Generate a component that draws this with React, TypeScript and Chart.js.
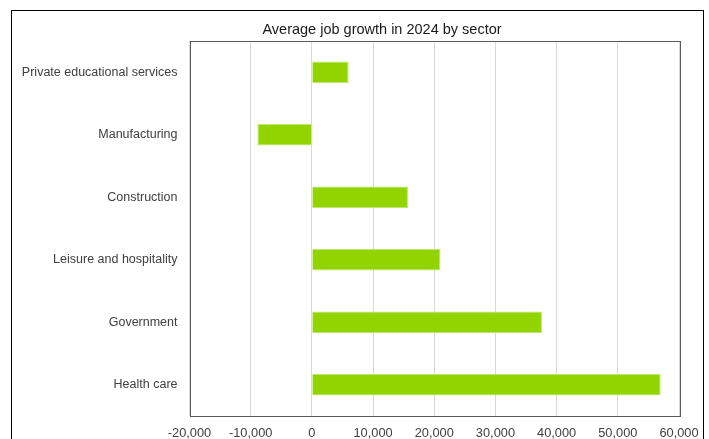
import React, { useEffect, useRef } from "react";
import { Chart, registerables } from "chart.js";

Chart.register(...registerables);

const TITLE = "Average job growth in 2024 by sector";
const categories = [
  "Private educational services",
  "Manufacturing",
  "Construction",
  "Leisure and hospitality",
  "Government",
  "Health care",
];
const jobGrowth = [6000, -8900, 15700, 21000, 37600, 57000];
const xMin = -20000;
const xMax = 60000;
const xStep = 10000;

const FONT = "'Liberation Sans', 'DejaVu Sans', sans-serif";

const plotBorder = {
  id: "plotBorder",
  afterDraw(chart: any) {
    const { ctx, chartArea } = chart;
    ctx.save();
    ctx.strokeStyle = "#595959";
    ctx.lineWidth = 1;
    ctx.strokeRect(
      Math.round(chartArea.left) + 0.5,
      Math.round(chartArea.top) + 0.5,
      Math.round(chartArea.right - chartArea.left),
      Math.round(chartArea.bottom - chartArea.top)
    );
    ctx.restore();
  },
};

const chartTitle = {
  id: "chartTitle",
  afterDraw(chart: any) {
    const { ctx } = chart;
    ctx.save();
    ctx.fillStyle = "#1a1a1a";
    ctx.font = `14.5px ${FONT}`;
    ctx.textAlign = "center";
    ctx.textBaseline = "middle";
    ctx.fillText(TITLE, 370, 19);
    ctx.restore();
  },
};

export default function App() {
  const ref = useRef<HTMLCanvasElement | null>(null);
  useEffect(() => {
    if (!ref.current) return;
    const chart = new Chart(ref.current, {
      type: "bar",
      data: {
        labels: categories,
        datasets: [
          {
            data: jobGrowth,
            backgroundColor: "#92D400",
            borderColor: "#BDE66A",
            borderWidth: 1,
            barPercentage: 0.69,
            categoryPercentage: 0.5,
          },
        ],
      },
      options: {
        indexAxis: "y",
        animation: false,
        responsive: false,
        maintainAspectRatio: false,
        layout: { padding: { left: 0, right: 24, top: 30, bottom: 0 } },
        plugins: {
          legend: { display: false },
          tooltip: { enabled: false },
          title: { display: false },
        },
        scales: {
          x: {
            type: "linear",
            min: xMin,
            max: xMax,
            ticks: {
              stepSize: xStep,
              color: "#404040",
              font: { family: FONT, size: 12.8 },
              padding: 10,
              callback: (v: any) => Number(v).toLocaleString("en-US"),
            },
            grid: { color: "#d9d9d9", drawTicks: false, lineWidth: 1 },
            border: { display: false },
            afterFit: (s: any) => {
              s.height = 35;
              s.paddingLeft = 0;
              s.paddingRight = 0;
            },
          },
          y: {
            ticks: {
              color: "#404040",
              font: { family: FONT, size: 12.5 },
              padding: 12,
            },
            grid: { display: false, drawTicks: false },
            border: { display: false },
            afterFit: (s: any) => {
              s.width = 177.5;
            },
          },
        },
      },
      plugins: [plotBorder, chartTitle],
    });
    return () => chart.destroy();
  }, []);
  return (
    <div
      style={{
        position: "absolute",
        left: 11,
        top: 10,
        width: 693,
        height: 450,
        border: "1px solid #000",
        boxSizing: "border-box",
        background: "#fff",
      }}
    >
      <canvas ref={ref} width={691} height={440} style={{ display: "block" }} />
    </div>
  );
}
